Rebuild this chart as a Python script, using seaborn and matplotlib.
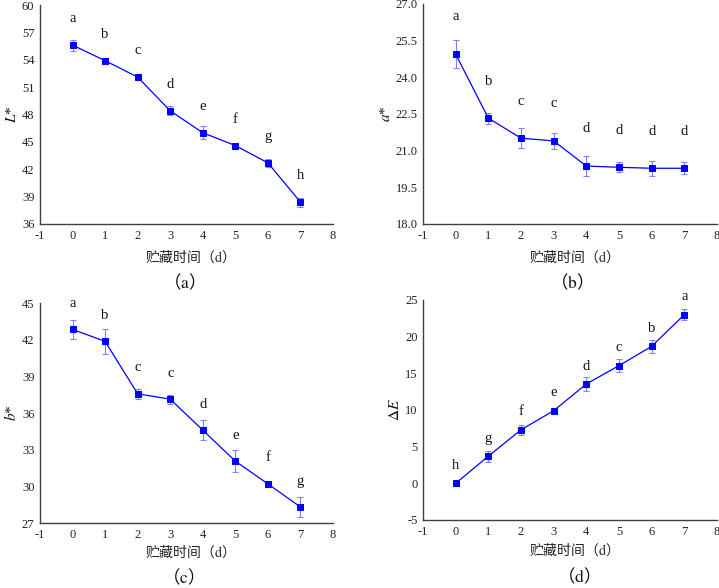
import numpy as np
import pandas as pd
import seaborn as sns
import matplotlib.pyplot as plt

# storage days
days = [0, 1, 2, 3, 4, 5, 6, 7]

# L*
L_mean = [55.6, 53.9, 52.1, 48.4, 46.0, 44.6, 42.7, 38.4]
L_err = [0.6, 0.3, 0.35, 0.5, 0.7, 0.2, 0.4, 0.5]
L_sig = ['a', 'b', 'c', 'd', 'e', 'f', 'g', 'h']

# a*
a_mean = [24.95, 22.33, 21.51, 21.40, 20.37, 20.32, 20.28, 20.28]
a_err = [0.58, 0.23, 0.41, 0.32, 0.41, 0.2, 0.31, 0.24]
a_sig = ['a', 'b', 'c', 'c', 'd', 'd', 'd', 'd']

# b*
b_mean = [42.84, 41.86, 37.57, 37.13, 34.6, 32.06, 30.2, 28.31]
b_err = [0.75, 1.04, 0.43, 0.36, 0.8, 0.9, 0.25, 0.82]
b_sig = ['a', 'b', 'c', 'c', 'd', 'e', 'f', 'g']

# delta E
E_mean = [0.0, 3.7, 7.3, 9.9, 13.55, 16.05, 18.68, 23.0]
E_err = [0.1, 0.75, 0.65, 0.3, 0.95, 0.9, 0.85, 0.75]
E_sig = ['h', 'g', 'f', 'e', 'd', 'c', 'b', 'a']

sns.set_style('white')
plt.rcParams['font.family'] = ['Liberation Serif', 'Noto Sans CJK SC']
plt.rcParams['mathtext.fontset'] = 'stix'
plt.rcParams['axes.unicode_minus'] = False

W, H = 719, 588
fig = plt.figure(figsize=(W / 100, H / 100), dpi=100)
CJK = 'Noto Sans CJK SC'


def box(l, r, t, b):
    return [l / W, 1 - b / H, (r - l) / W, (b - t) / H]


panels = [
    ((40, 333, 5, 224), L_mean, L_err, L_sig, r'$\mathit{L}$*', (36, 60), np.arange(36, 61, 3), '%d', 2.9, 'a', (179, 282), 257),
    ((423, 717, 4, 224), a_mean, a_err, a_sig, r'$\mathit{a}$*', (18, 27), np.arange(18, 27.1, 1.5), '%.1f', 1.52, 'b', (567, 282), 257),
    ((40, 333, 303, 523), b_mean, b_err, b_sig, r'$\mathit{b}$*', (27, 45), np.arange(27, 46, 3), '%d', 2.12, 'c', (178, 577), 552),
    ((423, 717, 300, 520), E_mean, E_err, E_sig, r'$\Delta\mathit{E}$', (-5, 25), np.arange(-5, 26, 5), '%d', 2.45, 'd', (574, 576), 550),
]

blue = '#0000ff'
for px, mean, err, sig, ylab, ylim, yticks, fmt, dy, tag, tagpos, xl_y in panels:
    ax = fig.add_axes(box(*px))
    df = pd.DataFrame({'day': days, 'val': mean})
    ax.errorbar(days, mean, yerr=err, fmt='none', ecolor='#8080ff', elinewidth=0.8,
                capsize=2.5, capthick=0.8, zorder=2)
    sns.lineplot(data=df, x='day', y='val', ax=ax, color=blue, lw=0.9,
                 marker='s', markersize=4.5, markeredgecolor=blue, zorder=3)
    for x, m, s in zip(days, mean, sig):
        ax.text(x, m + dy, s, ha='center', va='center', fontsize=10.5, color='#111111')
    ax.set_xlim(-1, 8)
    ax.set_ylim(*ylim)
    ax.set_xticks(range(-1, 9))
    ax.set_yticks(yticks)
    ax.set_yticklabels([fmt % v for v in yticks])
    sns.despine(ax=ax)
    for sp in ['left', 'bottom']:
        ax.spines[sp].set_color('#404040')
        ax.spines[sp].set_linewidth(1.0)
    ax.tick_params(direction='in', length=4, width=0.9, color='#404040',
                   labelsize=9, labelcolor='#222222', pad=4)
    ax.set_xlabel('')
    ax.set_ylabel(ylab, fontsize=11, color='#111111', labelpad=2)
    # x axis title and panel tag
    fig.text((px[0] + px[1]) / 2 / W, 1 - xl_y / H, '贮藏时间（$\\mathrm{d}$）',
             family=CJK, fontsize=10, color='#222222', ha='center', va='center')
    fig.text(tagpos[0] / W, 1 - tagpos[1] / H, '（$\\mathrm{%s}$）' % tag,
             family=CJK, fontsize=12.5, color='#111111', ha='center', va='center')

fig.savefig('out.png', dpi=100)
